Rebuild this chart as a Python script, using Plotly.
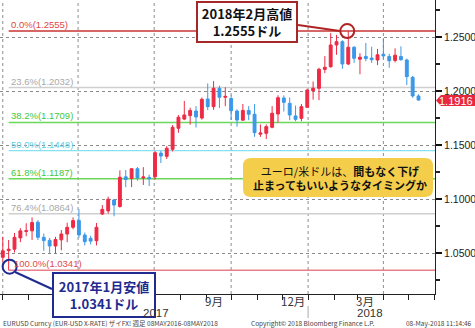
import plotly.graph_objects as go
import pandas as pd

# ---------------- data ----------------
week_dates = pd.date_range("2017-01-01", periods=72, freq="7D")

opens = [1.0460, 1.0522, 1.0535, 1.0640, 1.0700, 1.0705, 1.0785, 1.0645, 1.0617, 1.0565,
         1.0622, 1.0676, 1.0738, 1.0800, 1.0667, 1.0636, 1.0614, 1.0861, 1.0890, 1.0991,
         1.0930, 1.1205, 1.1190, 1.1280, 1.1195, 1.1200, 1.1206, 1.1425, 1.1395, 1.1460,
         1.1655, 1.1740, 1.1772, 1.1815, 1.1750, 1.1926, 1.1855, 1.2025, 1.1942, 1.1930,
         1.1815, 1.1730, 1.1820, 1.1785, 1.1600, 1.1608, 1.1664, 1.1787, 1.1935, 1.1886,
         1.1769, 1.1747, 1.1849, 1.2003, 1.2025, 1.2200, 1.2225, 1.2426, 1.2457, 1.2250,
         1.2405, 1.2294, 1.2320, 1.2305, 1.2287, 1.2340, 1.2320, 1.2283, 1.2320, 1.2287,
         1.2127, 1.1954]
highs = [1.0650, 1.0620, 1.0685, 1.0730, 1.0775, 1.0830, 1.0805, 1.0680, 1.0640, 1.0650,
         1.0713, 1.0780, 1.0830, 1.0906, 1.0690, 1.0660, 1.0778, 1.0944, 1.1022, 1.1000,
         1.1265, 1.1268, 1.1285, 1.1296, 1.1295, 1.1225, 1.1445, 1.1445, 1.1490, 1.1685,
         1.1777, 1.1908, 1.1845, 1.1860, 1.1940, 1.2070, 1.2092, 1.2050, 1.2035, 1.1960,
         1.1830, 1.1880, 1.1860, 1.1880, 1.1690, 1.1690, 1.1860, 1.1960, 1.1960, 1.1940,
         1.1865, 1.1880, 1.2020, 1.2088, 1.2215, 1.2323, 1.2537, 1.2520, 1.2470, 1.2555,
         1.2415, 1.2350, 1.2445, 1.2410, 1.2390, 1.2490, 1.2345, 1.2395, 1.2414, 1.2300,
         1.2140, 1.1970]
lows = [1.0420, 1.0341, 1.0505, 1.0600, 1.0655, 1.0620, 1.0620, 1.0520, 1.0495, 1.0495,
        1.0525, 1.0600, 1.0720, 1.0640, 1.0570, 1.0580, 1.0570, 1.0852, 1.0865, 1.0840,
        1.0920, 1.1110, 1.1110, 1.1170, 1.1130, 1.1120, 1.1180, 1.1333, 1.1370, 1.1440,
        1.1614, 1.1730, 1.1688, 1.1662, 1.1735, 1.1823, 1.1825, 1.1843, 1.1860, 1.1731,
        1.1670, 1.1725, 1.1730, 1.1575, 1.1575, 1.1555, 1.1655, 1.1710, 1.1810, 1.1730,
        1.1720, 1.1720, 1.1845, 1.1920, 1.1915, 1.2165, 1.2215, 1.2335, 1.2205, 1.2240,
        1.2260, 1.2155, 1.2275, 1.2260, 1.2240, 1.2300, 1.2215, 1.2265, 1.2280, 1.2055,
        1.1938, 1.1910]
closes = [1.0520, 1.0535, 1.0645, 1.0705, 1.0706, 1.0782, 1.0645, 1.0615, 1.0565, 1.0625,
          1.0676, 1.0738, 1.0800, 1.0667, 1.0605, 1.0610, 1.0738, 1.0904, 1.0998, 1.0944,
          1.1201, 1.1180, 1.1280, 1.1195, 1.1204, 1.1188, 1.1429, 1.1398, 1.1470, 1.1664,
          1.1757, 1.1778, 1.1820, 1.1760, 1.1923, 1.1855, 1.2025, 1.1942, 1.1950, 1.1818,
          1.1731, 1.1820, 1.1785, 1.1614, 1.1612, 1.1670, 1.1794, 1.1938, 1.1895, 1.1778,
          1.1738, 1.1855, 1.2009, 1.2025, 1.2201, 1.2220, 1.2426, 1.2457, 1.2250, 1.2405,
          1.2303, 1.2313, 1.2300, 1.2290, 1.2335, 1.2325, 1.2280, 1.2331, 1.2290, 1.2133,
          1.1954, 1.1916]

fib_pcts = ["0.0%", "23.6%", "38.2%", "50.0%", "61.8%", "76.4%", "100.0%"]
fib_levels = [1.2555, 1.2032, 1.1709, 1.1448, 1.1187, 1.0864, 1.0341]
fib_text_colors = ["#e04848", "#a8a8a8", "#44c83a", "#5cd0e6", "#44c83a", "#a8a8a8", "#e04848"]
fib_line_colors = ["#c83434", "#cfcfcf", "#6ad858", "#86e2f0", "#6ad858", "#cfcfcf", "#ea7f8c"]

y_ticks = [1.05, 1.10, 1.15, 1.20, 1.25]
y_ticktext = ["1.0500", "1.1000", "1.1500", "1.2000", "1.2500"]
y_minor = [1.025, 1.075, 1.125, 1.175, 1.225, 1.275]
month_ticks = pd.date_range("2017-01-01", "2018-06-01", freq="MS")
quarter_lines = ["2017-01-01", "2017-04-01", "2017-07-01", "2017-10-01", "2018-01-01", "2018-04-01"]
month_labels = [("2017-09-01", "9月"), ("2017-12-01", "12月"), ("2018-03-01", "3月")]
year_labels = ["2017", "2018"]
last_price = 1.1916
high_value = 1.2555
low_value = 1.0341

# ---------------- layout helpers ----------------
PW, PH = 435, 294


def px(x):
    return x / PW


def py(y):
    return (PH - y) / PH


fig = go.Figure()
fig.add_trace(go.Candlestick(
    x=week_dates, open=opens, high=highs, low=lows, close=closes,
    increasing=dict(line=dict(color="#ee2a44", width=1), fillcolor="#ee2a44"),
    decreasing=dict(line=dict(color="#3c98e8", width=1), fillcolor="#3c98e8"),
    whiskerwidth=0, hoverinfo="skip",
))

shapes = []
for d in quarter_lines:
    shapes.append(dict(type="line", xref="x", yref="paper", x0=d, x1=d, y0=0, y1=1,
                       line=dict(color="#8c8c8c", width=1, dash="dot"), layer="below"))

x_end = "2018-06-01 17:00"
annotations = []
for pct, lvl, tc, lc in zip(fib_pcts, fib_levels, fib_text_colors, fib_line_colors):
    shapes.append(dict(type="line", xref="x", yref="y", x0=week_dates[1], x1=x_end, y0=lvl, y1=lvl,
                       line=dict(color=lc, width=1.4), layer="below"))
    lx = 12 if pct == "100.0%" else 9
    annotations.append(dict(xref="paper", yref="y", x=px(lx), y=lvl, xanchor="left", yanchor="bottom",
                            text=f"{pct}({lvl:.4f})", showarrow=False, yshift=-1,
                            font=dict(family="Liberation Sans", size=9.5, color=tc)))

# circles on high / low
shapes.append(dict(type="circle", xref="x", yref="y", xsizemode="pixel", ysizemode="pixel",
                   xanchor=week_dates[59], yanchor=high_value, x0=-8, x1=6, y0=-7, y1=7,
                   line=dict(color="#b02424", width=2)))
shapes.append(dict(type="circle", xref="x", yref="y", xsizemode="pixel", ysizemode="pixel",
                   xanchor=week_dates[1], yanchor=low_value, x0=-6, x1=8, y0=-3.5, y1=10.5,
                   line=dict(color="#1f2b8f", width=2)))
# connectors
shapes.append(dict(type="line", xref="paper", yref="paper", x0=px(298), y0=py(25), x1=px(340), y1=py(31),
                   line=dict(color="#b02424", width=2)))
shapes.append(dict(type="line", xref="paper", yref="paper", x0=px(15), y0=py(272), x1=px(52), y1=py(289),
                   line=dict(color="#1f2b8f", width=2)))

# yellow rounded box
x0b, x1b, y0b, y1b, r = 243, 433, 158, 197, 8
path = (f"M {px(x0b + r)} {py(y0b)} L {px(x1b - r)} {py(y0b)} Q {px(x1b)} {py(y0b)} {px(x1b)} {py(y0b + r)} "
        f"L {px(x1b)} {py(y1b - r)} Q {px(x1b)} {py(y1b)} {px(x1b - r)} {py(y1b)} "
        f"L {px(x0b + r)} {py(y1b)} Q {px(x0b)} {py(y1b)} {px(x0b)} {py(y1b - r)} "
        f"L {px(x0b)} {py(y0b + r)} Q {px(x0b)} {py(y0b)} {px(x0b + r)} {py(y0b)} Z")
shapes.append(dict(type="path", xref="paper", yref="paper", path=path,
                   fillcolor="#f4cd4b", line=dict(width=0)))

# last price tag
tag = (f"M {px(436)} {py(100.5)} L {px(441)} {py(95)} L {px(475)} {py(95)} "
       f"L {px(475)} {py(106)} L {px(441)} {py(106)} Z")
shapes.append(dict(type="path", xref="paper", yref="paper", path=tag,
                   fillcolor="#e8283c", line=dict(width=0), layer="above"))

# year separator
shapes.append(dict(type="line", xref="x", yref="paper", x0="2018-01-01", x1="2018-01-01",
                   y0=py(306), y1=py(318), line=dict(color="#aaaaaa", width=1)))

cjk = "Noto Sans CJK JP"
annotations += [
    dict(xref="paper", yref="paper", x=px(247), y=py(22), xanchor="center", yanchor="middle",
         text="<b>2018年2月高値<br>1.2555ドル</b>", showarrow=False, align="center",
         bgcolor="white", bordercolor="#a52828", borderwidth=2, borderpad=1, width=96, height=36,
         font=dict(family=cjk, size=13, color="#111111")),
    dict(xref="paper", yref="paper", x=px(104), y=py(295), xanchor="center", yanchor="middle",
         text="<b>2017年1月安値<br>1.0341ドル</b>", showarrow=False, align="center",
         bgcolor="white", bordercolor="#1f2b8f", borderwidth=2, borderpad=1, width=98, height=40,
         font=dict(family=cjk, size=13, color="#1f2b8f")),
    dict(xref="paper", yref="paper", x=px(340), y=py(178), xanchor="center", yanchor="middle",
         text="ユーロ/米ドルは、<b>間もなく下げ</b><br><b>止まってもいいようなタイミングか</b>",
         showarrow=False, align="center", font=dict(family=cjk, size=11, color="#111111")),
    dict(xref="paper", yref="paper", x=px(456), y=py(100.5), xanchor="center", yanchor="middle",
         text=f"{last_price:.4f}", showarrow=False, borderpad=0,
         font=dict(family="Liberation Sans", size=11, color="white")),
]
for d, t in month_labels:
    annotations.append(dict(xref="x", yref="paper", x=d, y=py(301), xanchor="left", yanchor="middle",
                            xshift=-2, text=t, showarrow=False, borderpad=0,
                            font=dict(family=cjk, size=11.5, color="#333333")))
for xc, t in zip([156, 370], year_labels):
    annotations.append(dict(xref="paper", yref="paper", x=px(xc), y=py(312.5), xanchor="center",
                            yanchor="middle", text=t, showarrow=False, borderpad=0,
                            font=dict(family="Liberation Sans", size=11.5, color="#333333")))
foot = dict(family=cjk, size=6.5, color="#444444")
annotations += [
    dict(xref="paper", yref="paper", x=px(2), y=py(322.5), xanchor="left", yanchor="middle", showarrow=False,
         text="EURUSD Curncy (EUR-USD X-RATE) ザイFX! 週足 08MAY2016-08MAY2018", font=foot, borderpad=0),
    dict(xref="paper", yref="paper", x=px(250), y=py(322.5), xanchor="left", yanchor="middle", showarrow=False,
         text="Copyright© 2018 Bloomberg Finance L.P.", font=foot, borderpad=0),
    dict(xref="paper", yref="paper", x=px(473), y=py(322.5), xanchor="right", yanchor="middle", showarrow=False,
         text="08-May-2018 11:14:46", font=foot, borderpad=0),
]

fig.update_layout(
    width=475, height=328, margin=dict(l=0, r=40, t=0, b=34),
    paper_bgcolor="white", plot_bgcolor="white", showlegend=False,
    shapes=shapes, annotations=annotations,
    xaxis=dict(type="date", range=["2016-12-28 16:00", x_end], rangeslider=dict(visible=False),
               tickvals=month_ticks, ticktext=[""] * len(month_ticks), ticks="outside", ticklen=5,
               tickcolor="#222222", showline=True, linecolor="#222222", linewidth=1,
               showgrid=False, zeroline=False, fixedrange=True),
    yaxis=dict(side="right", range=[1.01204, 1.28426], tickvals=y_ticks, ticktext=y_ticktext,
               ticks="outside", ticklen=6, tickwidth=2, tickcolor="#111111",
               showline=True, linecolor="#222222", linewidth=1,
               showgrid=True, gridcolor="#8a8a8a", griddash="dot", gridwidth=1, zeroline=False,
               tickfont=dict(family="Liberation Sans", size=10.5, color="#222222"),
               minor=dict(tickvals=y_minor, ticks="outside", ticklen=4, tickcolor="#222222", showgrid=False)),
)

fig.write_html("out.html")
